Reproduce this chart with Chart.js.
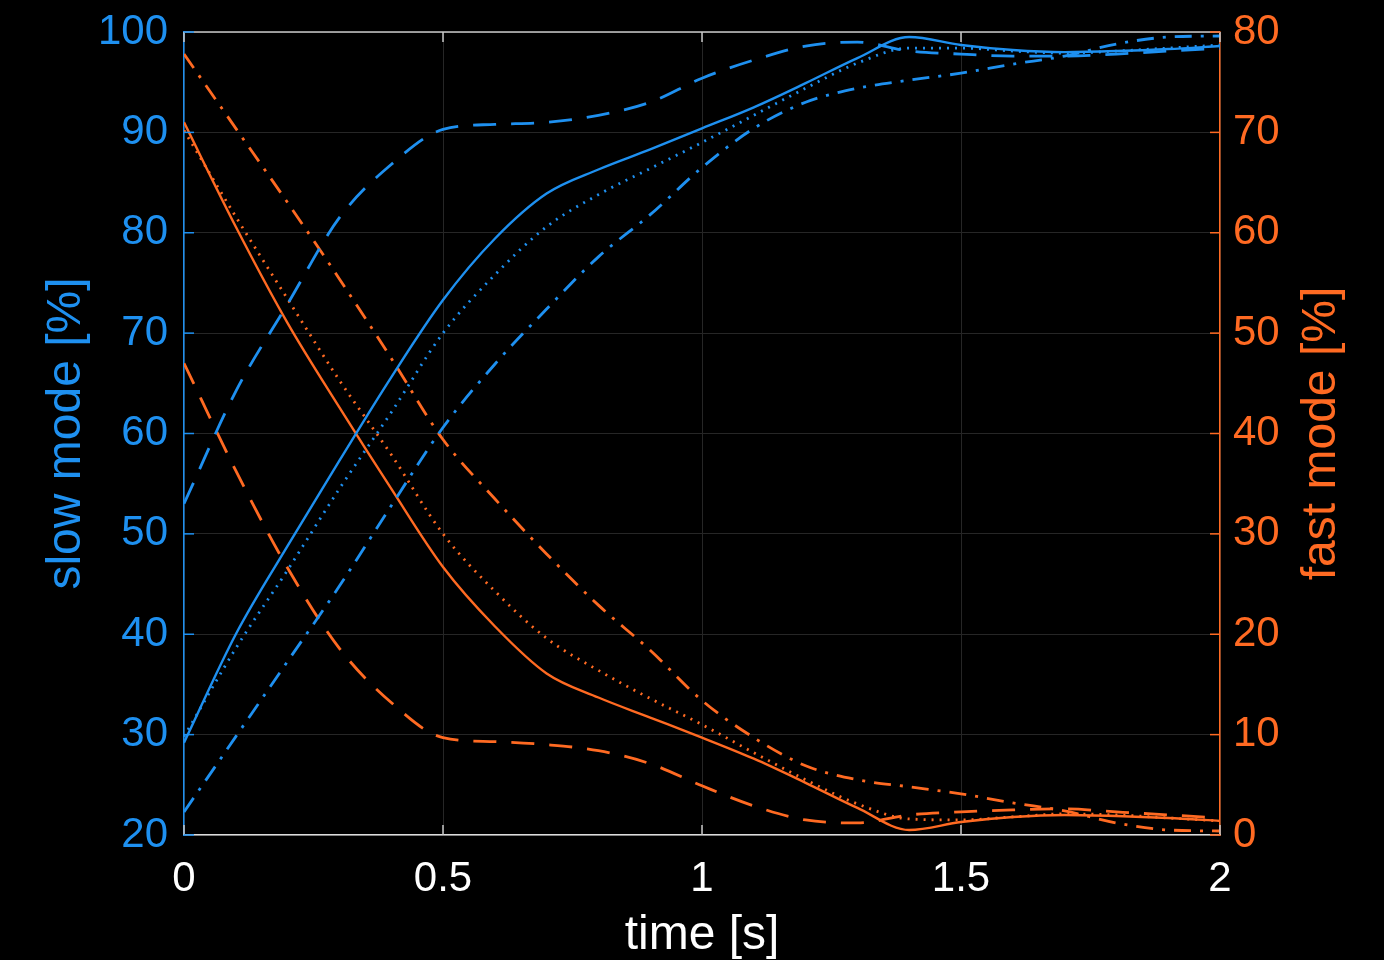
<!DOCTYPE html>
<html>
<head>
<meta charset="utf-8">
<title>slow / fast mode</title>
<script src="https://cdn.jsdelivr.net/npm/chart.js@4.4.1/dist/chart.umd.min.js"></script>
<style>
  html,body{margin:0;padding:0;background:#000;}
  #wrap{width:1384px;height:960px;position:relative;}
</style>
</head>
<body>
<div id="wrap"><canvas id="modeChart"></canvas></div>
<script>
// time axis [s]
const times = [0,0.1,0.2,0.3,0.4,0.5,0.6,0.7,0.8,0.9,1.0,1.1,1.2,1.3,1.4,1.5,1.6,1.7,1.8,1.9,2.0];

// slow mode [%] (left axis)
const slowSolid   = [29.2,40.0,48.8,57.3,65.6,73.3,79.4,83.9,86.3,88.3,90.4,92.5,94.9,97.4,99.5,98.7,98.2,98.0,98.1,98.3,98.6];
const slowDotted  = [29.8,38.6,46.4,54.5,62.1,70.0,75.8,80.6,83.8,86.4,89.0,91.7,94.4,96.9,98.4,98.4,98.1,97.9,98.1,98.4,98.7];
const slowDashed  = [53.0,64.2,72.9,81.5,86.8,90.3,90.8,91.0,91.7,93.0,95.4,97.2,98.6,99.0,98.1,97.8,97.6,97.6,97.8,98.1,98.4];
const slowDashDot = [22.3,29.8,37.3,44.8,52.8,60.6,66.9,72.4,77.6,81.8,86.5,90.4,93.0,94.4,95.2,95.9,96.8,97.6,98.8,99.5,99.6];

// fast mode [%] (right axis)
const fastSolid   = [71.0,60.6,51.0,42.6,34.5,26.7,20.8,16.1,13.7,11.7,9.7,7.6,5.2,2.7,0.5,1.3,1.8,2.0,1.9,1.7,1.4];
const fastDotted  = [70.2,61.6,53.4,45.3,37.9,30.0,24.3,19.6,16.4,13.6,11.0,8.2,5.5,3.1,1.6,1.5,1.8,2.1,2.0,1.7,1.4];
const fastDashed  = [47.0,36.3,26.6,18.6,13.2,9.7,9.3,9.0,8.4,7.1,4.9,2.9,1.5,1.2,2.0,2.3,2.5,2.6,2.3,2.0,1.7];
const fastDashDot = [77.8,70.4,63.0,55.4,47.5,39.4,33.5,28.0,22.9,18.4,13.4,9.7,6.9,5.5,4.8,4.1,3.2,2.4,1.2,0.5,0.4];

const BLUE = '#1e90f0';
const ORANGE = '#ff6a22';
const FONT = "'Liberation Sans', Arial, Helvetica, sans-serif";

const DOT = [2,6];
const DASH = [23,15];
const DASHDOT = [17,9,3,9];

function pts(vals){ return vals.map((v,i)=>({x:times[i],y:v})); }

function line(label, vals, color, dash, axis){
  return {
    label:label, data:pts(vals), yAxisID:axis,
    borderColor:color, borderWidth:dash.length ? 2.8 : 2.4, borderDash:dash,
    pointRadius:0, fill:false, cubicInterpolationMode:'monotone'
  };
}

// fixed axis boxes so the plot area sits at 184..1220 x 32..835
function fixWidth(w){
  return s=>{ s.width = w; s.paddingTop = 0; s.paddingBottom = 0; };
}

// inward tick marks, top frame line and the right-hand title
const framePlugin = {
  id:'frame',
  afterDatasetsDraw(chart){
    const {ctx, chartArea:a, scales} = chart;
    const len = 10;
    ctx.save();
    ctx.lineWidth = 1.5;
    ctx.strokeStyle = '#c8c8c8';
    ctx.beginPath();
    ctx.moveTo(a.left, a.top); ctx.lineTo(a.right, a.top);
    ctx.stroke();
    scales.x.ticks.forEach(t=>{
      const x = scales.x.getPixelForValue(t.value);
      ctx.beginPath();
      ctx.moveTo(x, a.bottom); ctx.lineTo(x, a.bottom - len);
      ctx.moveTo(x, a.top); ctx.lineTo(x, a.top + len);
      ctx.stroke();
    });
    ctx.strokeStyle = BLUE;
    scales.y.ticks.forEach(t=>{
      const y = scales.y.getPixelForValue(t.value);
      ctx.beginPath(); ctx.moveTo(a.left, y); ctx.lineTo(a.left + len, y); ctx.stroke();
    });
    ctx.strokeStyle = ORANGE;
    scales.y2.ticks.forEach(t=>{
      const y = scales.y2.getPixelForValue(t.value);
      ctx.beginPath(); ctx.moveTo(a.right, y); ctx.lineTo(a.right - len, y); ctx.stroke();
    });
    ctx.restore();
  },
  afterDraw(chart){
    const {ctx, chartArea:a} = chart;
    ctx.save();
    ctx.translate(1322, (a.top + a.bottom) / 2);
    ctx.rotate(-Math.PI / 2);
    ctx.fillStyle = ORANGE;
    ctx.font = '48px ' + FONT;
    ctx.textAlign = 'center';
    ctx.textBaseline = 'middle';
    ctx.fillText('fast mode [%]', 0, 0);
    ctx.restore();
  }
};

const ctx = document.getElementById('modeChart').getContext('2d');

const chart = new Chart(ctx,{
  type:'line',
  data:{
    datasets:[
      line('slow solid', slowSolid, BLUE, [], 'y'),
      line('slow dotted', slowDotted, BLUE, DOT, 'y'),
      line('slow dashed', slowDashed, BLUE, DASH, 'y'),
      line('slow dash-dot', slowDashDot, BLUE, DASHDOT, 'y'),
      line('fast solid', fastSolid, ORANGE, [], 'y2'),
      line('fast dotted', fastDotted, ORANGE, DOT, 'y2'),
      line('fast dashed', fastDashed, ORANGE, DASH, 'y2'),
      line('fast dash-dot', fastDashDot, ORANGE, DASHDOT, 'y2')
    ]
  },
  options:{
    responsive:true,
    maintainAspectRatio:false,
    animation:false,
    layout:{padding:{top:32}},
    plugins:{legend:{display:false}, tooltip:{enabled:false}},
    scales:{
      x:{
        type:'linear', min:0, max:2,
        afterFit(s){ s.height = 125; },
        ticks:{stepSize:0.5, color:'#ffffff', padding:19, maxRotation:0,
               font:{family:FONT, size:42}, callback:v=>String(v)},
        grid:{color:'#262626', lineWidth:1, drawTicks:false},
        border:{color:'#dcdcdc', width:1.5},
        title:{display:true, text:'time [s]', color:'#ffffff',
               font:{family:FONT, size:48, lineHeight:1}, padding:{top:0, bottom:0}}
      },
      y:{
        position:'left', min:20, max:100,
        afterFit:fixWidth(184),
        ticks:{stepSize:10, color:BLUE, padding:16, font:{family:FONT, size:42}},
        grid:{color:'#262626', lineWidth:1, drawTicks:false},
        border:{color:BLUE, width:1.5},
        title:{display:true, text:'slow mode [%]', color:BLUE,
               font:{family:FONT, size:48, lineHeight:1}, padding:{top:43, bottom:0}}
      },
      y2:{
        position:'right', min:0, max:80,
        afterFit:fixWidth(164),
        ticks:{stepSize:10, color:ORANGE, padding:13, font:{family:FONT, size:42}},
        grid:{drawOnChartArea:false, drawTicks:false},
        border:{color:ORANGE, width:1.5}
      }
    }
  },
  plugins:[framePlugin]
});
</script>
</body>
</html>
